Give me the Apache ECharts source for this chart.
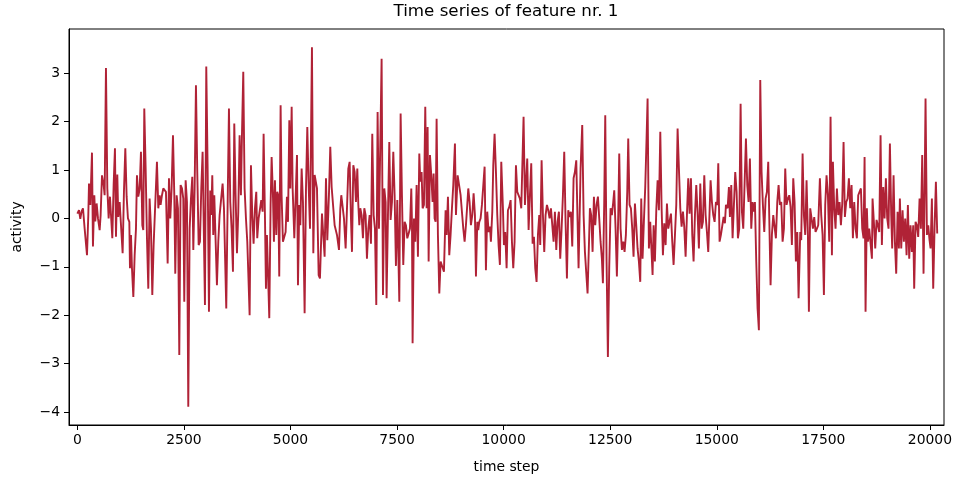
<!DOCTYPE html>
<html><head><meta charset="utf-8">
<script src="https://cdn.jsdelivr.net/npm/echarts@6/dist/echarts.min.js"></script>
<style>html,body{margin:0;padding:0;background:#fff}#c{width:960px;height:482px}</style>
</head><body><div id="c"></div>
<script>
const timeStep = [
0,39,70,102,133,172,227,258,274,305,344,367,399,422,453,485,524,547,579,618,641,672,704,735,766,797,821,852,883,907,938,961,993,1024,1063,1094,1126,1157,1188,1220,1235,1259,1282,1314,1345,1376,1399,1431,1462,1493,1525,
1548,1571,1603,1634,1665,1696,1728,1759,1790,1829,1868,1900,1931,1954,1986,2017,2048,2079,2119,2150,2181,2212,2244,2275,2298,2330,2361,2392,2423,2455,2486,2509,2541,2572,2603,2635,2666,2697,2721,2752,2783,2814,2846,2877,2908,2939,2971,2994,3025,3057,3088,3119,3143,
3166,3189,3213,3244,3275,3307,3338,3377,3408,3440,3463,3494,3526,3557,3588,3619,3651,3682,3713,3745,3776,3807,3838,3862,3893,3924,3956,3987,4010,4042,4073,4104,4135,4167,4198,4221,4253,4284,4315,4347,4370,4401,4425,4448,4479,4503,4534,4558,4589,4612,4636,4667,4690,4714,4737,4769,4792,4823,4855,4886,4917,
4942,4973,4996,5028,5051,5090,5153,5176,5207,5231,5262,5293,5332,5364,5395,5426,5458,5504,5536,5567,5598,5622,5661,5692,5739,5801,5833,5864,5903,5934,5966,5997,6036,6091,6138,6169,6192,6224,6255,6294,6333,6357,6388,6419,6443,6474,6505,6536,6568,6591,6615,
6638,6669,6700,6732,6763,6794,6826,6857,6888,6919,6951,6982,7013,7044,7076,7107,7138,7170,7201,7232,7255,7287,7318,7349,7381,7412,7443,7474,7506,7537,7553,7584,7615,7646,7678,7709,7740,7772,7803,7834,7850,7865,7897,7928,7959,7990,8022,8045,8076,8100,8131,8162,8194,8217,8241,8272,8303,8334,8358,
8381,8405,8428,8459,8491,8522,8561,8600,8639,8663,8694,8725,8756,8788,8819,8858,8882,8921,8952,8991,9022,9054,9085,9116,9147,9171,9202,9233,9265,9296,9327,9351,9382,9405,9429,9460,9491,9515,9554,9585,9616,9648,9679,9702,9734,9757,9788,9820,9851,9882,9913,9945,9984,10007,10038,10070,
10101,10132,10164,10195,10226,10257,10289,10320,10351,10382,10414,10445,10468,10500,10531,10554,10586,10617,10648,10680,10711,10742,10773,10805,10836,10859,10891,10922,10953,10984,11016,11047,11078,11110,11141,11172,11203,11235,11266,11297,11328,11360,11391,11422,11453,11485,11516,11547,11578,11610,11641,11672,11704,11735,11758,11790,
11805,11844,11876,11907,11938,11969,12001,12024,12055,12087,12118,12149,12180,12212,12243,12274,12305,12329,12360,12384,12415,12446,12477,12509,12540,12571,12595,12626,12657,12689,12712,12743,12775,12806,12837,12868,12900,12923,12954,12986,13017,13048,13080,13111,13142,13173,13205,13228,13259,13290,13322,13353,13377,13408,13439,13471,13494,
13518,13549,13581,13612,13643,13675,13706,13737,13768,13800,13831,13862,13893,13925,13956,13987,14019,14050,14081,14112,14144,14175,14206,14237,14269,14300,14331,14362,14394,14425,14456,14488,14519,14550,14581,14613,14644,14675,14707,14738,14769,14800,14832,14855,14886,14918,14949,14980,15011,15035,15066,15097,15129,15160,15191,15215,
15254,15285,15308,15340,15371,15402,15433,15465,15496,15527,15559,15590,15621,15652,15684,15715,15746,15777,15809,15840,15871,15895,15926,15957,15988,16020,16051,16082,16114,16145,16176,16207,16239,16262,16293,16325,16356,16387,16419,16450,16481,16512,16544,16575,16606,16637,16669,16700,16731,16762,16794,16825,16856,16888,16919,
16958,16981,17013,17044,17075,17106,17138,17161,17192,17224,17255,17286,17317,17349,17380,17419,17450,17482,17513,17544,17575,17607,17638,17669,17701,17724,17755,17786,17818,17849,17880,17912,17943,17974,18005,18037,18068,18099,18131,18162,18193,18224,18256,18287,18318,18349,18381,18412,18443,18467,18490,18521,18545,18576,18607,18639,
18654,18685,18717,18748,18779,18811,18842,18873,18904,18936,18967,18998,19029,19061,19092,19115,19147,19178,19209,19241,19272,19295,19327,19358,19389,19420,19452,19483,19514,19545,19577,19608,19631,19663,19694,19725,19757,19788,19819,19850,19874,19897,19929,19960,19991,20015,20046,20077,20108,20140,20171
];
const activity = [
0.10,0.17,-0.01,0.15,0.21,-0.21,-0.76,0.07,0.72,0.28,1.36,-0.58,0.48,-0.06,0.31,0.0,-0.24,0.07,0.89,0.69,0.48,3.11,0.62,0.0,0.45,0.41,-0.41,0.69,1.45,-0.38,0.91,0.03,0.34,0.33,-0.72,0.55,1.45,0.45,0.0,-0.07,-1.03,-0.34,-1.03,-1.62,-0.76,-0.21,0.89,0.45,0.61,1.38,-0.14,
-0.24,2.27,1.03,-0.41,-1.45,0.41,-0.21,-1.58,-0.55,-0.52,1.17,0.21,0.48,0.28,0.48,0.62,0.58,0.55,-0.93,0.83,0.0,0.62,1.72,0.48,-1.14,0.48,0.21,-2.82,0.69,0.62,0.41,-1.72,0.79,0.34,-3.89,-0.21,0.41,0.86,-0.65,0.62,2.75,0.96,-0.55,-0.48,0.62,1.38,1.41,-1.79,3.14,1.03,-1.93,0.58,0.07,
0.89,-0.34,0.48,0.52,-1.38,-0.48,0.07,0.07,0.72,0.21,0.17,-1.86,0.28,2.27,0.34,-0.21,-1.10,1.96,0.48,-0.72,0.14,1.72,0.48,1.72,3.03,0.62,0.0,-0.48,-1.10,-2.00,1.10,0.07,-0.52,0.21,0.55,-0.41,0.0,0.03,0.38,0.14,1.75,0.07,-1.45,-0.34,-0.34,-2.06,0.28,1.27,0.48,-0.48,0.79,-0.34,0.55,0.48,-1.20,2.34,0.48,-0.48,-0.52,-0.28,0.45,
-0.07,2.03,0.62,2.31,0.62,-0.41,1.31,-1.38,0.28,-0.14,1.03,0.34,-1.96,0.62,1.89,0.7,-0.21,3.54,-0.72,0.9,0.89,0.62,-1.17,-1.24,0.10,-0.79,0.83,-0.45,0.5,1.48,0.65,0.62,-0.14,-0.34,-0.65,0.2,0.48,0.45,0.0,-0.62,-0.65,1.03,1.17,0.0,-0.69,1.10,0.96,0.34,1.03,0.3,-0.14,
0.21,0.07,-0.41,0.21,0.07,-0.83,-0.21,0.07,-0.52,1.75,0.07,-0.21,-1.79,2.20,-0.21,-0.21,3.30,-1.58,0.62,0.34,-1.65,0.07,1.58,-0.03,0.34,1.38,0.48,-0.98,0.38,0.34,-1.72,2.17,0.48,-0.96,-0.07,-0.14,-0.41,-0.31,-0.21,0.62,-0.07,-2.58,0.0,-0.48,0.69,-0.79,1.34,0.76,0.96,0.21,0.28,2.31,0.21,1.89,-0.89,1.31,0.89,0.34,0.93,
0.0,-0.07,2.06,-0.34,-1.55,-0.89,-0.89,-1.10,0.17,-0.34,0.45,-0.76,-0.34,0.21,0.69,1.55,0.07,0.89,0.93,0.48,0.48,-0.21,-0.48,-0.14,0.28,0.62,0.34,-0.14,0.07,0.52,0.07,-1.20,-0.07,-0.24,-0.07,0.0,0.28,0.28,1.07,-1.07,0.14,-0.28,-0.17,-0.48,0.14,1.10,1.75,0.96,0.07,-0.55,-0.96,1.17,0.21,-0.55,-0.28,-1.03,
0.17,0.24,0.38,-0.48,-1.03,-0.48,1.10,0.55,0.55,0.41,0.21,0.21,2.10,0.28,0.28,1.24,-0.24,0.48,1.14,-0.52,-0.38,-1.03,-1.31,-0.34,0.07,-0.55,1.20,0.07,-0.69,0.07,0.28,0.17,0.0,0.21,0.17,-0.48,0.14,-0.65,-0.07,0.14,-0.83,-0.21,0.48,1.38,-0.07,-1.24,0.17,0.03,0.14,-0.58,0.83,0.96,1.20,-0.07,-1.03,0.34,
1.03,1.93,0.07,-0.69,-0.69,-1.55,-0.55,0.21,0.07,-0.69,0.45,-0.14,0.28,0.45,0.0,-0.48,-0.83,-1.34,0.34,2.13,-0.89,-2.86,-1.03,0.21,0.07,0.34,0.58,-0.21,-1.20,0.07,1.34,-0.21,-0.65,-0.48,-0.69,-0.34,0.55,1.65,0.28,0.21,-0.21,-0.79,0.31,-0.14,-0.62,-0.89,-1.31,0.41,-0.83,-0.07,0.65,1.65,2.48,-0.62,-0.07,-0.03,-1.17,
-0.14,-0.89,0.17,0.79,0.17,1.79,0.21,-0.76,-0.10,-0.55,0.31,-0.21,-0.21,0.10,-0.48,-0.96,-0.34,0.28,1.86,1.03,0.21,-0.17,0.14,-0.17,-0.79,0.07,0.83,0.10,0.83,-0.34,-0.89,0.07,0.69,0.10,-0.62,0.72,-0.21,-0.07,0.89,0.07,-0.28,-0.69,0.17,0.79,0.34,0.07,-0.07,0.34,0.28,1.14,-0.48,-0.34,-0.34,0.03,-0.10,0.28,
0.21,0.65,0.03,0.69,-0.41,-0.45,0.96,0.55,-0.41,-0.21,2.37,0.14,-0.21,-0.21,1.65,0.69,0.34,1.24,-0.21,0.34,0.14,0.34,-0.89,-1.86,-2.31,2.86,0.96,0.28,-0.28,0.41,0.55,1.17,-0.34,-1.38,-0.34,0.07,0.07,-0.41,0.34,0.69,0.28,0.34,-0.48,-0.21,1.03,0.28,0.41,0.48,0.24,-0.55,0.83,0.34,-0.89,-0.28,-1.65,
-0.28,-0.45,1.34,0.07,-0.34,0.79,-0.34,-1.93,0.21,0.21,-0.21,0.03,-0.28,-0.21,-0.14,0.83,0.07,-0.34,-1.58,0.28,0.89,0.48,-0.48,2.10,-0.76,1.17,0.21,-0.21,0.62,0.07,0.34,-0.14,0.31,1.58,0.03,0.34,0.41,0.83,0.21,0.69,-0.41,0.34,-0.21,-0.41,0.48,0.55,0.62,-0.21,-0.41,1.27,-1.93,0.21,-0.48,-0.21,-0.21,-0.83,
0.41,-0.07,-0.62,-0.03,-0.14,-0.28,1.72,-0.55,0.65,0.0,0.83,0.0,-0.21,1.55,0.07,-0.62,0.89,-0.48,-1.14,0.14,-0.62,0.41,-0.62,0.17,-0.48,0.0,-0.76,0.28,-0.83,-0.14,-0.69,-0.14,-1.45,-0.07,-0.14,-0.38,0.41,-0.21,1.31,-1.14,0.48,2.48,-0.34,-0.14,-0.45,-0.62,0.41,-1.45,-0.21,0.76,-0.31
];
const xTicks = [0, 2500, 5000, 7500, 10000, 12500, 15000, 17500, 20000];
const yTicks = [-4, -3, -2, -1, 0, 1, 2, 3];

const FONT = 'DejaVu Sans';
const chart = echarts.init(document.getElementById('c'), null, {renderer: 'canvas'});
const fmt = v => String(v).replace('-', '\u2212');
const data = timeStep.map((t, i) => [t, activity[i]]);

chart.setOption({
  animation: false,
  backgroundColor: '#ffffff',
  graphic: [{
    type: 'text', x: 506, y: 3,
    style: {text: 'Time series of feature nr. 1', font: '16.7px "DejaVu Sans"', fill: '#000', textAlign: 'center', textVerticalAlign: 'top'}
  }],
  grid: {left: 69, right: 16, top: 29, bottom: 57, show: true, borderColor: '#000', borderWidth: 1, backgroundColor: 'transparent'},
  xAxis: {
    type: 'value', min: -195, max: 20330,
    name: 'time step', nameLocation: 'middle', nameGap: 35,
    nameTextStyle: {fontFamily: FONT, fontSize: 13.9, color: '#000'},
    axisLine: {show: true, onZero: false, lineStyle: {color: '#000', width: 1}},
    axisTick: {show: true, length: 5, customValues: xTicks, lineStyle: {color: '#000', width: 1}},
    axisLabel: {customValues: xTicks, formatter: fmt, fontFamily: FONT, fontSize: 13.9, color: '#000', margin: 8},
    splitLine: {show: false}
  },
  yAxis: {
    type: 'value', min: -4.268, max: 3.915,
    name: 'activity', nameLocation: 'middle', nameGap: 45, nameRotate: 90,
    nameTextStyle: {fontFamily: FONT, fontSize: 13.9, color: '#000'},
    axisLine: {show: true, onZero: false, lineStyle: {color: '#000', width: 1}},
    axisTick: {show: true, length: 5, customValues: yTicks, lineStyle: {color: '#000', width: 1}},
    axisLabel: {customValues: yTicks, formatter: fmt, fontFamily: FONT, fontSize: 13.9, color: '#000', margin: 9},
    splitLine: {show: false}
  },
  series: [{
    type: 'line', data: data, showSymbol: false, symbol: 'none',
    lineStyle: {color: '#b02236', width: 1.9}, silent: true
  }]
});
</script>
</body></html>
